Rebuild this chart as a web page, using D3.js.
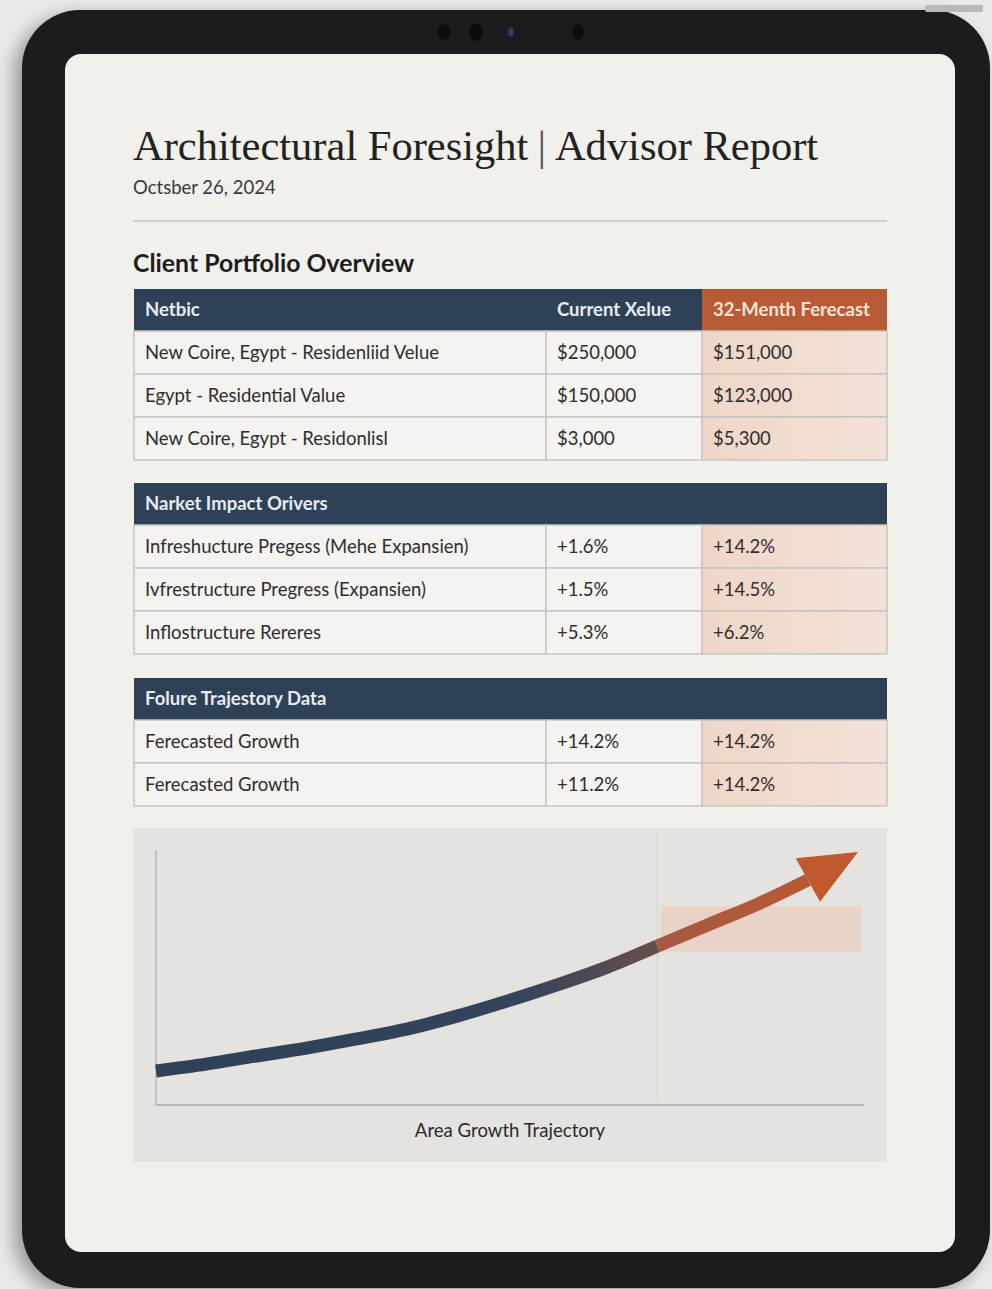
<!DOCTYPE html>
<html>
<head>
<meta charset="utf-8">
<script src="https://cdn.jsdelivr.net/npm/d3@7/dist/d3.min.js"></script>
<style>
	body { margin: 0; background: #e9e9e7; }
	svg { display: block; }
</style>
</head>
<body>
<div class="forshow"></div>
<script>
// report text
var reportTitle = "Architectural Foresight";
var reportSubtitle = "Advisor Report";
var reportDate = "Octsber 26, 2024";
var sectionTitle = "Client Portfolio Overview";
var chartLabel = "Area Growth Trajectory";

// table 1
var portfolioHeader = ["Netbic", "Current Xelue", "32-Menth Ferecast"];
var portfolioMetrics = ["New Coire, Egypt - Residenliid Velue", "Egypt - Residential Value", "New Coire, Egypt - Residonlisl"];
var portfolioCurrent = ["$250,000", "$150,000", "$3,000"];
var portfolioForecast = ["$151,000", "$123,000", "$5,300"];

// table 2
var driverTitle = "Narket Impact Orivers";
var driverMetrics = ["Infreshucture Pregess (Mehe Expansien)", "Ivfrestructure Pregress (Expansien)", "Inflostructure Rereres"];
var driverCurrent = ["+1.6%", "+1.5%", "+5.3%"];
var driverForecast = ["+14.2%", "+14.5%", "+6.2%"];

// table 3
var trajectoryTitle = "Folure Trajestory Data";
var trajectoryMetrics = ["Ferecasted Growth", "Ferecasted Growth"];
var trajectoryCurrent = ["+14.2%", "+11.2%"];
var trajectoryForecast = ["+14.2%", "+14.2%"];

// growth curve (periods 0-10 actual, 10-14 forecast)
var periods = [0, 1, 2, 3, 4, 5, 6, 7, 8, 9, 10, 11, 12, 13, 14];
var growth = [13.0, 15.7, 18.9, 22.0, 25.6, 29.5, 34.6, 40.5, 46.9, 53.9, 62.2, 70.5, 78.7, 88.2, 99.2];
var forecastStart = 10;
var forecastBand = [60, 78];

var navy = "#2f4157";
var rust = "#b85a35";
var sans = "Lato, sans-serif";

var svg = d3.select(".forshow").append("svg")
	.attr("width", 992)
	.attr("height", 1289);

var defs = svg.append("defs");

var shadow = defs.append("filter")
	.attr("id", "shadow")
	.attr("x", "-10%").attr("y", "-10%")
	.attr("width", "120%").attr("height", "120%");
shadow.append("feDropShadow")
	.attr("dx", -8).attr("dy", 6)
	.attr("stdDeviation", 9)
	.attr("flood-color", "#000")
	.attr("flood-opacity", 0.35);

var peach = defs.append("linearGradient")
	.attr("id", "peach")
	.attr("x1", 0).attr("x2", 1);
peach.append("stop").attr("offset", 0).attr("stop-color", "#efd6c8");
peach.append("stop").attr("offset", 1).attr("stop-color", "#f3e2d8");

var histGrad = defs.append("linearGradient")
	.attr("id", "histGrad")
	.attr("gradientUnits", "userSpaceOnUse")
	.attr("x1", 156).attr("x2", 662)
	.attr("y1", 0).attr("y2", 0);
histGrad.append("stop").attr("offset", 0).attr("stop-color", navy);
histGrad.append("stop").attr("offset", 0.72).attr("stop-color", "#34445a");
histGrad.append("stop").attr("offset", 1).attr("stop-color", "#6a4e4b");

var foreGrad = defs.append("linearGradient")
	.attr("id", "foreGrad")
	.attr("gradientUnits", "userSpaceOnUse")
	.attr("x1", 662).attr("x2", 858)
	.attr("y1", 0).attr("y2", 0);
foreGrad.append("stop").attr("offset", 0).attr("stop-color", "#a45a42");
foreGrad.append("stop").attr("offset", 1).attr("stop-color", "#c0582e");

// tablet body
svg.append("rect")
	.attr("x", 22).attr("y", 10)
	.attr("width", 968).attr("height", 1278)
	.attr("rx", 58)
	.attr("fill", "#1b1b1b")
	.attr("filter", "url(#shadow)");

svg.append("rect")
	.attr("x", 925).attr("y", 5)
	.attr("width", 58).attr("height", 7)
	.attr("rx", 2)
	.attr("fill", "#b9b9b9");

// camera dots
var cams = [{x: 444, r: 6, c: "#0c0c0c"}, {x: 476, r: 7, c: "#0c0c0c"}, {x: 511, r: 3, c: "#2d3f66"}, {x: 541, r: 2, c: "#151515"}, {x: 578, r: 6, c: "#0c0c0c"}];
svg.selectAll(".cam")
	.data(cams)
	.enter()
	.append("ellipse")
	.attr("class", "cam")
	.attr("cx", function(d) { return d.x; })
	.attr("cy", 32)
	.attr("rx", function(d) { return d.r; })
	.attr("ry", function(d) { return d.r * 1.3; })
	.attr("fill", function(d) { return d.c; });

// screen
svg.append("rect")
	.attr("x", 65).attr("y", 54)
	.attr("width", 890).attr("height", 1198)
	.attr("rx", 16)
	.attr("fill", "#f1f0eb");

// header
var title = svg.append("text")
	.attr("x", 133).attr("y", 160)
	.attr("font-family", "Liberation Serif, serif")
	.attr("font-size", 42.5)
	.attr("fill", "#222");
title.append("tspan").text(reportTitle);
title.append("tspan").attr("fill", "#555").attr("dx", 9).text("|");
title.append("tspan").attr("dx", 9).text(reportSubtitle);

svg.append("text")
	.attr("x", 133).attr("y", 194)
	.attr("font-family", sans)
	.attr("font-size", 18.5)
	.attr("fill", "#3a3a3a")
	.text(reportDate);

svg.append("line")
	.attr("x1", 133).attr("x2", 887)
	.attr("y1", 221).attr("y2", 221)
	.attr("stroke", "#cfcdc8")
	.attr("stroke-width", 2);

svg.append("text")
	.attr("x", 133).attr("y", 272)
	.attr("font-family", sans)
	.attr("font-weight", "bold")
	.attr("font-size", 24.8)
	.attr("fill", "#1d1d1d")
	.text(sectionTitle);

// tables
var colX = [134, 546, 702, 887];
var headH = 42, rowH = 43;

function drawTable(top, header, metrics, current, forecast) {
	var g = svg.append("g").attr("transform", "translate(0," + top + ")");
	var rows = metrics.map(function(m, i) { return [m, current[i], forecast[i]]; });

	if (Array.isArray(header)) {
		g.selectAll(".hcell")
			.data(header)
			.enter()
			.append("rect")
			.attr("x", function(d, i) { return colX[i]; })
			.attr("y", 0)
			.attr("width", function(d, i) { return colX[i + 1] - colX[i]; })
			.attr("height", headH)
			.attr("fill", function(d, i) { return i == 2 ? rust : navy; });
		g.selectAll(".htext")
			.data(header)
			.enter()
			.append("text")
			.attr("x", function(d, i) { return colX[i] + 11; })
			.attr("y", 27)
			.attr("font-family", sans)
			.attr("font-weight", "bold")
			.attr("font-size", 18.5)
			.attr("fill", function(d, i) { return i == 2 ? "#f6e3d8" : "#e8ecf1"; })
			.text(function(d) { return d; });
	} else {
		g.append("rect")
			.attr("x", colX[0]).attr("y", 0)
			.attr("width", colX[3] - colX[0]).attr("height", headH)
			.attr("fill", navy);
		g.append("text")
			.attr("x", colX[0] + 11).attr("y", 27)
			.attr("font-family", sans)
			.attr("font-weight", "bold")
			.attr("font-size", 18.5)
			.attr("fill", "#e8ecf1")
			.text(header);
	}

	var row = g.selectAll(".row")
		.data(rows)
		.enter()
		.append("g")
		.attr("transform", function(d, i) {
			return "translate(0," + (headH + i * rowH) + ")";
		});

	row.selectAll("rect")
		.data(function(d) { return d; })
		.enter()
		.append("rect")
		.attr("x", function(d, i) { return colX[i]; })
		.attr("y", 0)
		.attr("width", function(d, i) { return colX[i + 1] - colX[i]; })
		.attr("height", rowH)
		.attr("fill", function(d, i) { return i == 2 ? "url(#peach)" : "#f4f3ef"; })
		.attr("stroke", "#c6c5c1")
		.attr("stroke-width", 1.5);

	row.selectAll("text")
		.data(function(d) { return d; })
		.enter()
		.append("text")
		.attr("x", function(d, i) { return colX[i] + 11; })
		.attr("y", 28)
		.attr("font-family", sans)
		.attr("font-size", 18.5)
		.attr("fill", "#2e2e2e")
		.text(function(d) { return d; });
}

drawTable(289, portfolioHeader, portfolioMetrics, portfolioCurrent, portfolioForecast);
drawTable(483, driverTitle, driverMetrics, driverCurrent, driverForecast);
drawTable(678, trajectoryTitle, trajectoryMetrics, trajectoryCurrent, trajectoryForecast);

// growth chart
svg.append("rect")
	.attr("x", 133).attr("y", 828)
	.attr("width", 754).attr("height", 334)
	.attr("fill", "#e5e3df");

var x = d3.scaleLinear().domain([0, 14]).range([156, 858]);
var y = d3.scaleLinear().domain([0, 100]).range([1104, 850]);

// forecast band
svg.append("rect")
	.attr("x", x(forecastStart) + 3)
	.attr("y", y(forecastBand[1]))
	.attr("width", x(14) - x(forecastStart))
	.attr("height", y(forecastBand[0]) - y(forecastBand[1]))
	.attr("fill", "#e8d3c6");

// divider at forecast start
svg.append("line")
	.attr("x1", x(forecastStart)).attr("x2", x(forecastStart))
	.attr("y1", 832).attr("y2", 1102)
	.attr("stroke", "#dad8d3")
	.attr("stroke-width", 1.5);

// axes
svg.append("line")
	.attr("x1", 156).attr("x2", 156)
	.attr("y1", 850).attr("y2", 1105)
	.attr("stroke", "#b9b7b3")
	.attr("stroke-width", 1.5);
svg.append("line")
	.attr("x1", 156).attr("x2", 864)
	.attr("y1", 1105).attr("y2", 1105)
	.attr("stroke", "#b9b7b3")
	.attr("stroke-width", 2);

var pts = periods.map(function(p, i) { return [p, growth[i]]; });
var hist = pts.filter(function(d) { return d[0] <= forecastStart; });
var fore = pts.filter(function(d) { return d[0] >= forecastStart && d[0] <= 13; });

var line = d3.line()
	.x(function(d) { return x(d[0]); })
	.y(function(d) { return y(d[1]); })
	.curve(d3.curveMonotoneX);

svg.append("path")
	.attr("d", line(hist))
	.attr("fill", "none")
	.attr("stroke", "url(#histGrad)")
	.attr("stroke-width", 13);

svg.append("path")
	.attr("d", line(fore))
	.attr("fill", "none")
	.attr("stroke", "url(#foreGrad)")
	.attr("stroke-width", 13);

// arrowhead from period 13 to 14
var base = pts[13], tip = pts[14];
var bx = x(base[0]), by = y(base[1]), tx = x(tip[0]), ty = y(tip[1]);
var ang = Math.atan2(ty - by, tx - bx);
var hw = 25;
svg.append("path")
	.attr("d", "M " + tx + " " + ty +
		" L " + (bx + hw * Math.sin(ang)) + " " + (by - hw * Math.cos(ang)) +
		" L " + (bx - hw * Math.sin(ang)) + " " + (by + hw * Math.cos(ang)) + " z")
	.attr("fill", "#c0582e");

svg.append("text")
	.attr("x", 510).attr("y", 1137)
	.attr("text-anchor", "middle")
	.attr("font-family", sans)
	.attr("font-size", 18.6)
	.attr("fill", "#2a2a2a")
	.text(chartLabel);
</script>
</body>
</html>
